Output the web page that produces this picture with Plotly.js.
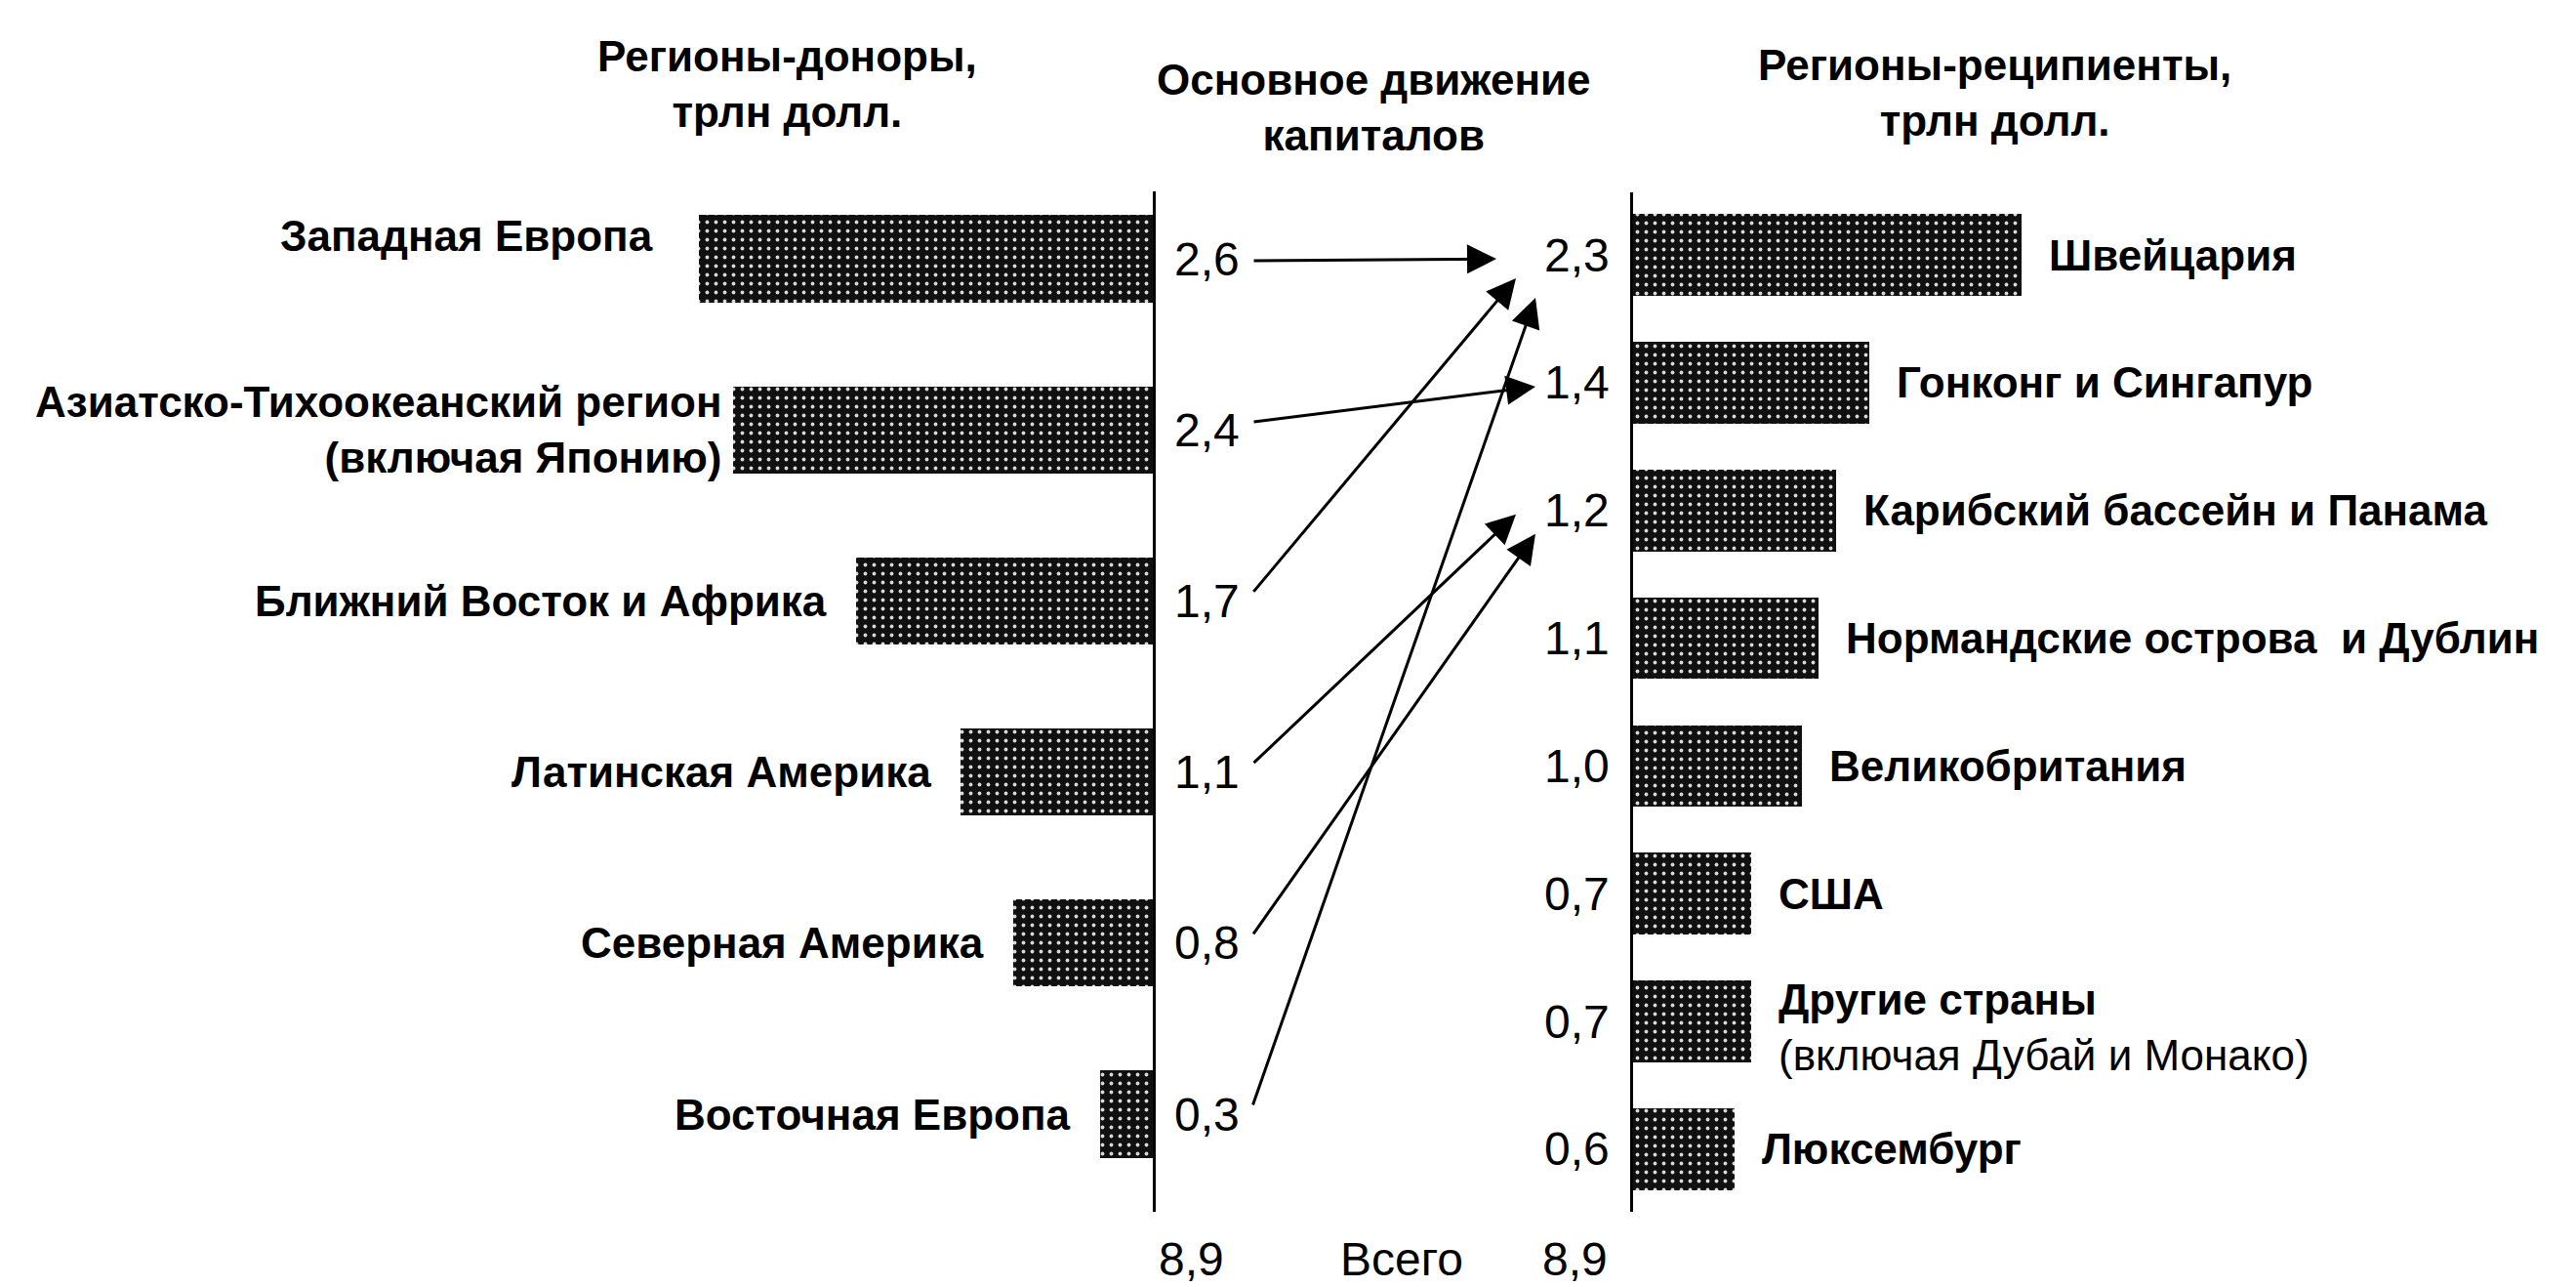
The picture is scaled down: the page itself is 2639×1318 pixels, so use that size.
<!DOCTYPE html>
<html>
<head>
<meta charset="utf-8">
<script src="https://cdn.plot.ly/plotly-3.0.1.min.js"></script>
<style>html,body{margin:0;padding:0;background:#fff;}#chart{width:2639px;height:1318px;}</style>
</head>
<body>
<div id="chart"></div>
<script>
// ---- data ----
const donorNames = ['Западная Европа', 'Азиатско-Тихоокеанский регион<br>(включая Японию)', 'Ближний Восток и Африка', 'Латинская Америка', 'Северная Америка', 'Восточная Европа'];
const donorValues = [2.6, 2.4, 1.7, 1.1, 0.8, 0.3];
const recipientNames = ['Швейцария', 'Гонконг и Сингапур', 'Карибский бассейн и Панама', 'Нормандские острова  и Дублин', 'Великобритания', 'США', 'Другие страны', 'Люксембург'];
const recipientNotes = ['', '', '', '', '', '', '(включая Дубай и Монако)', ''];
const recipientValues = [2.3, 1.4, 1.2, 1.1, 1.0, 0.7, 0.7, 0.6];
// flows: [donor index, recipient index]
const flows = [[0, 0], [1, 1], [2, 0], [3, 2], [4, 2], [5, 0]];
const totalDonors = 8.9;
const totalRecipients = 8.9;
const titleDonors = 'Регионы-доноры,<br>трлн долл.';
const titleFlow = 'Основное движение<br>капиталов';
const titleRecipients = 'Регионы-реципиенты,<br>трлн долл.';
const totalLabel = 'Всего';

// ---- layout / style ----
const W = 2639, H = 1318;
const FONT = '"Liberation Sans", Arial, sans-serif';
const fmt = v => v.toFixed(1).replace('.', ',');
const barMarker = {
  color: '#101010',
  line: {width: 0},
  pattern: {shape: '.', fgcolor: '#d8d8d8', bgcolor: '#101010', size: 9, solidity: 0.14, fillmode: 'replace'}
};
const leftAxisPx = 1181, rightAxisPx = 1673;
const leftScale = 179, rightScale = 173;
const yTop = 196, yBot = 1241;

const traces = [
  {type: 'bar', orientation: 'h', x: donorValues, y: donorNames, xaxis: 'x', yaxis: 'y',
   width: 0.51, marker: barMarker, hoverinfo: 'x+y'},
  {type: 'bar', orientation: 'h', x: recipientValues, y: recipientNames.map((n, i) => n + (recipientNotes[i] ? ' ' + recipientNotes[i] : '')), xaxis: 'x2', yaxis: 'y2',
   width: 0.64, marker: barMarker, hoverinfo: 'x+y'}
];

const ann = [];
const labelShiftY = donorNames.map((n, i) => i === 0 ? 24 : 0);
const labelShiftX = donorNames.map((n, i) => i === 0 ? -45 : (i === 1 ? -10 : -28));
donorNames.forEach((n, i) => {
  ann.push({xref: 'x', yref: 'y', x: donorValues[i], y: i, xanchor: 'right', yanchor: 'middle',
    xshift: labelShiftX[i], yshift: labelShiftY[i], align: 'right', showarrow: false,
    text: '<b>' + n + '</b>', font: {family: FONT, size: 44, color: '#000'}});
  ann.push({xref: 'x', yref: 'y', x: 0, y: i, xanchor: 'left', yanchor: 'middle', xshift: 20,
    showarrow: false, text: fmt(donorValues[i]), font: {family: FONT, size: 48, color: '#000'}});
});
recipientNames.forEach((n, i) => {
  let t = '<b>' + n + '</b>' + (recipientNotes[i] ? '<br>' + recipientNotes[i] : '');
  ann.push({xref: 'x2', yref: 'y2', x: recipientValues[i], y: i, xanchor: 'left', yanchor: 'middle',
    xshift: 26, yshift: recipientNotes[i] ? -6 : 0, align: 'left', showarrow: false, text: t,
    font: {family: FONT, size: 44, color: '#000'}});
  ann.push({xref: 'x2', yref: 'y2', x: 0, y: i, xanchor: 'right', yanchor: 'middle', xshift: -22,
    showarrow: false, text: fmt(recipientValues[i]), font: {family: FONT, size: 48, color: '#000'}});
});
const titleFont = {family: FONT, size: 44, color: '#000'};
ann.push({xref: 'paper', yref: 'paper', x: 806 / W, y: 1 - 86 / H, xanchor: 'center', yanchor: 'middle', showarrow: false, text: '<b>' + titleDonors + '</b>', font: titleFont});
ann.push({xref: 'paper', yref: 'paper', x: 1407 / W, y: 1 - 110 / H, xanchor: 'center', yanchor: 'middle', showarrow: false, text: '<b>' + titleFlow + '</b>', font: titleFont});
ann.push({xref: 'paper', yref: 'paper', x: 2043 / W, y: 1 - 95 / H, xanchor: 'center', yanchor: 'middle', showarrow: false, text: '<b>' + titleRecipients + '</b>', font: titleFont});
const totFont = {family: FONT, size: 48, color: '#000'};
ann.push({xref: 'x', yref: 'paper', x: 0, y: 0, xanchor: 'left', yanchor: 'bottom', xshift: 4, yshift: 0, showarrow: false, text: fmt(totalDonors), font: totFont});
ann.push({xref: 'paper', yref: 'paper', x: 1436 / W, y: 0, xanchor: 'center', yanchor: 'bottom', yshift: 0, showarrow: false, text: totalLabel, font: totFont});
ann.push({xref: 'x2', yref: 'paper', x: 0, y: 0, xanchor: 'right', yanchor: 'bottom', xshift: -24, yshift: 0, showarrow: false, text: fmt(totalRecipients), font: totFont});

const axBase = {showgrid: false, zeroline: false, showticklabels: false, ticks: '', fixedrange: true};
const layout = {
  width: W, height: H, margin: {l: 0, r: 0, t: 0, b: 0, pad: 0},
  paper_bgcolor: '#fff', plot_bgcolor: 'rgba(0,0,0,0)', showlegend: false, bargap: 0,
  xaxis: Object.assign({}, axBase, {domain: [0, leftAxisPx / W], range: [leftAxisPx / leftScale, 0], anchor: 'y', showline: false}),
  yaxis: Object.assign({}, axBase, {domain: [1 - yBot / H, 1 - yTop / H], type: 'category', anchor: 'x', side: 'right',
    range: [(yBot - 265) / 175.2, (yTop - 265) / 175.2], showline: true, linewidth: 3, linecolor: '#000'}),
  xaxis2: Object.assign({}, axBase, {domain: [rightAxisPx / W, 1], range: [0, (W - rightAxisPx) / rightScale], anchor: 'y2', showline: false}),
  yaxis2: Object.assign({}, axBase, {domain: [1 - yBot / H, 1 - (yTop + 1) / H], type: 'category', anchor: 'x2', side: 'left',
    range: [7.49, -0.49], showline: true, linewidth: 3, linecolor: '#000'}),
  annotations: ann
};

Plotly.newPlot('chart', traces, layout, {displayModeBar: false, staticPlot: true}).then(gd => {
  const fl = gd._fullLayout;
  const yL = fl.yaxis, yR = fl.yaxis2, xL = fl.xaxis, xR = fl.xaxis2;
  const pyL = i => yL._offset + yL.l2p(i);
  const pyR = i => yR._offset + yR.l2p(i);
  const pxL0 = xL._offset + xL.l2p(0);
  const pxR0 = xR._offset + xR.l2p(0);
  const counts = {};
  flows.forEach(f => { counts[f[1]] = (counts[f[1]] || 0) + 1; });
  const seen = {};
  const arrows = flows.map(f => {
    const [d, r] = f;
    const k = seen[r] || 0; seen[r] = k + 1;
    const n = counts[r];
    const hx = pxR0 - 100 - 20 * (n - 1 - k);
    const hy = pyR(r) + 4 + 20 * k;
    const tx = pxL0 + 102;
    const tyBase = pyL(d);
    const ty = (hy < tyBase - 40) ? tyBase - 8 : tyBase + 2;
    return {xref: 'paper', yref: 'paper', x: hx / W, y: 1 - hy / H, ax: tx - hx, ay: ty - hy,
      axref: 'pixel', ayref: 'pixel', text: '', showarrow: true, arrowhead: 2, arrowsize: 2,
      arrowwidth: 3, arrowcolor: '#000', standoff: 0, startstandoff: 0};
  });
  Plotly.relayout(gd, {annotations: ann.concat(arrows)});
});
</script>
</body>
</html>
